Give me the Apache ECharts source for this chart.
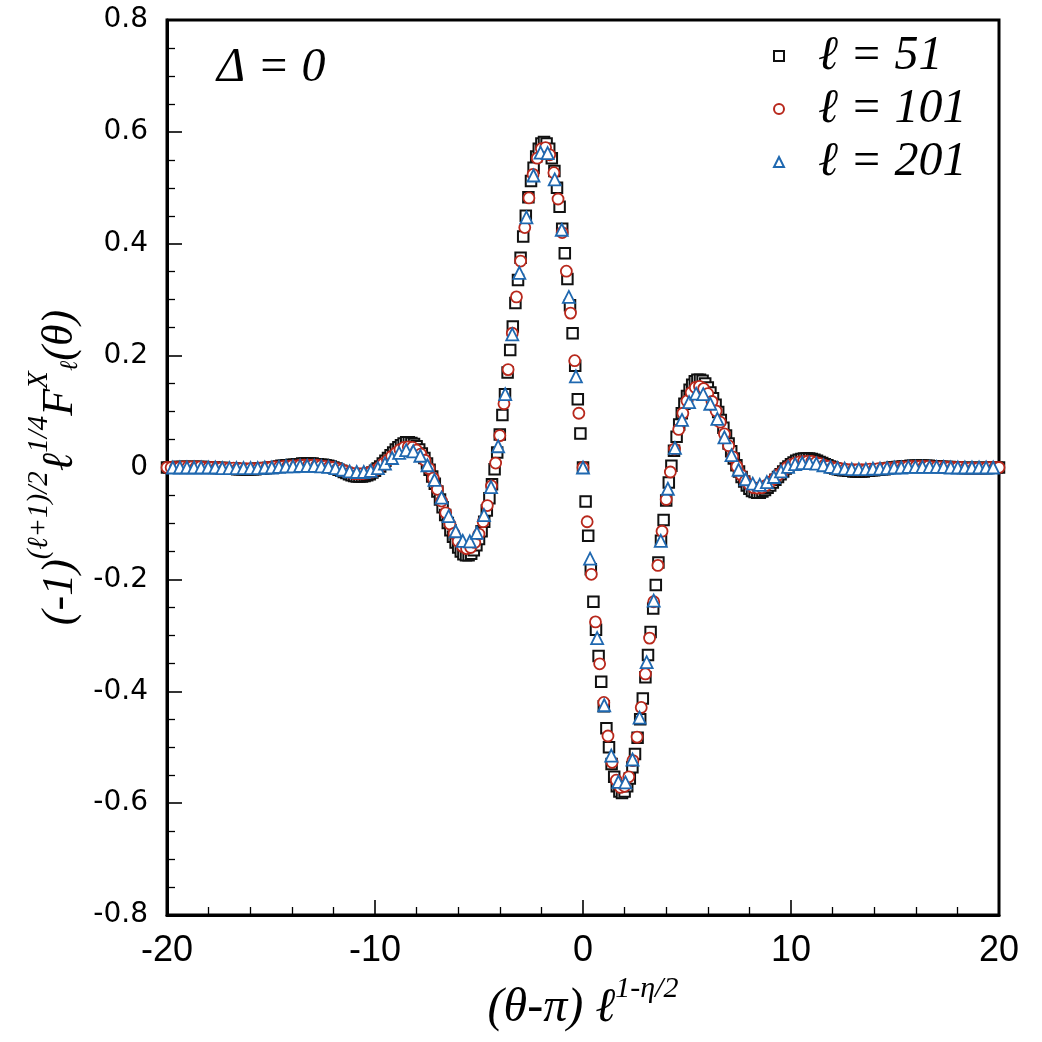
<!DOCTYPE html>
<html>
<head>
<meta charset="utf-8">
<title>F_l^X scaling collapse</title>
<script src="https://cdn.jsdelivr.net/npm/echarts@6/dist/echarts.min.js"></script>
<style>
  html, body { margin: 0; padding: 0; background: #fff; }
  #main { width: 1042px; height: 1042px; }
</style>
</head>
<body>
<div id="main"></div>
<script>
(function() {
  'use strict';
  var echarts = window.echarts;

  // 坐标轴刻度
  var xTicks = [-20, -10, 0, 10, 20];
  var yTicks = [-0.8, -0.6, -0.4, -0.2, 0, 0.2, 0.4, 0.6, 0.8];

  var names = ['ℓ = 51', 'ℓ = 101', 'ℓ = 201'];

  // 每条数据的 x 网格：起点与步长（均匀采样）
  var x0L51 = -20, dxL51 = 0.125;
  var x0L101 = -20, dxL101 = 0.2;
  var x0L201 = -19.72, dxL201 = 0.34;

  // l = 51 (方块)
  var yL51 = [
    0, 0, 0, 0, 0.001, 0.001, 0.001, 0.001,
    0.001, 0.001, 0.001, 0.001, 0.001, 0.001, 0.001, 0,
    0, 0, 0, -0.001, -0.001, -0.001, -0.001, -0.002,
    -0.002, -0.002, -0.002, -0.003, -0.003, -0.003, -0.003, -0.003,
    -0.003, -0.003, -0.003, -0.002, -0.002, -0.002, -0.001, -0.001,
    0, 0, 0.001, 0.002, 0.003, 0.003, 0.004, 0.004,
    0.005, 0.005, 0.006, 0.006, 0.007, 0.007, 0.007, 0.007,
    0.007, 0.006, 0.006, 0.005, 0.005, 0.004, 0.003, 0.002,
    0, -0.002, -0.004, -0.006, -0.008, -0.010, -0.012, -0.014,
    -0.015, -0.016, -0.016, -0.016, -0.015, -0.014, -0.012, -0.009,
    -0.006, -0.002, 0.002, 0.007, 0.012, 0.017, 0.022, 0.027,
    0.032, 0.036, 0.040, 0.043, 0.045, 0.045, 0.044, 0.042,
    0.038, 0.032, 0.025, 0.017, 0.007, -0.004, -0.016, -0.029,
    -0.043, -0.057, -0.071, -0.085, -0.099, -0.112, -0.124, -0.134,
    -0.143, -0.150, -0.155, -0.157, -0.157, -0.154, -0.148, -0.139,
    -0.128, -0.114, -0.097, -0.077, -0.055, -0.030, -0.003, 0.027,
    0.059, 0.094, 0.131, 0.170, 0.210, 0.252, 0.294, 0.335,
    0.375, 0.413, 0.450, 0.483, 0.512, 0.536, 0.556, 0.570,
    0.579, 0.582, 0.579, 0.570, 0.553, 0.530, 0.500, 0.466,
    0.427, 0.383, 0.337, 0.290, 0.240, 0.182, 0.122, 0.061,
    0, -0.061, -0.122, -0.182, -0.240, -0.290, -0.337, -0.383,
    -0.427, -0.466, -0.500, -0.530, -0.553, -0.570, -0.579, -0.582,
    -0.579, -0.570, -0.556, -0.536, -0.512, -0.483, -0.450, -0.413,
    -0.375, -0.335, -0.294, -0.252, -0.210, -0.170, -0.131, -0.094,
    -0.059, -0.027, 0.003, 0.030, 0.055, 0.077, 0.097, 0.114,
    0.128, 0.139, 0.148, 0.154, 0.157, 0.157, 0.155, 0.150,
    0.143, 0.134, 0.124, 0.112, 0.099, 0.085, 0.071, 0.057,
    0.043, 0.029, 0.016, 0.004, -0.007, -0.017, -0.025, -0.032,
    -0.038, -0.042, -0.044, -0.045, -0.045, -0.043, -0.040, -0.036,
    -0.032, -0.027, -0.022, -0.017, -0.012, -0.007, -0.002, 0.002,
    0.006, 0.009, 0.012, 0.014, 0.015, 0.016, 0.016, 0.016,
    0.015, 0.014, 0.012, 0.010, 0.008, 0.006, 0.004, 0.002,
    0, -0.002, -0.003, -0.004, -0.005, -0.005, -0.006, -0.006,
    -0.007, -0.007, -0.007, -0.007, -0.007, -0.006, -0.006, -0.005,
    -0.005, -0.004, -0.004, -0.003, -0.003, -0.002, -0.001, 0,
    0, 0.001, 0.001, 0.002, 0.002, 0.002, 0.003, 0.003,
    0.003, 0.003, 0.003, 0.003, 0.003, 0.003, 0.002, 0.002,
    0.002, 0.002, 0.001, 0.001, 0.001, 0.001, 0, 0,
    0, 0, -0.001, -0.001, -0.001, -0.001, -0.001, -0.001,
    -0.001, -0.001, -0.001, -0.001, -0.001, 0, 0, 0,
    0
  ];

  // l = 101 (圆圈)
  var yL101 = [
    0, 0, 0, 0, 0.001,
    0.001, 0.001, 0.001, 0.001, 0,
    0, 0, 0, -0.001, -0.001,
    -0.001, -0.001, -0.002, -0.002, -0.002,
    -0.002, -0.002, -0.001, -0.001, 0,
    0, 0.001, 0.001, 0.002, 0.002,
    0.003, 0.003, 0.004, 0.004, 0.004,
    0.004, 0.004, 0.003, 0.002, 0.001,
    0, -0.002, -0.004, -0.007, -0.009,
    -0.011, -0.011, -0.011, -0.010, -0.008,
    -0.005, 0, 0.007, 0.013, 0.020,
    0.026, 0.032, 0.036, 0.037, 0.036,
    0.031, 0.024, 0.013, -0.002, -0.019,
    -0.039, -0.060, -0.081, -0.101, -0.118,
    -0.132, -0.141, -0.145, -0.143, -0.134,
    -0.119, -0.097, -0.068, -0.033, 0.008,
    0.057, 0.114, 0.175, 0.240, 0.305,
    0.369, 0.429, 0.482, 0.524, 0.553,
    0.570, 0.572, 0.559, 0.527, 0.480,
    0.420, 0.351, 0.276, 0.191, 0.097,
    0, -0.097, -0.191, -0.276, -0.351,
    -0.420, -0.480, -0.527, -0.559, -0.572,
    -0.570, -0.553, -0.524, -0.482, -0.429,
    -0.369, -0.305, -0.240, -0.175, -0.114,
    -0.057, -0.008, 0.033, 0.068, 0.097,
    0.119, 0.134, 0.143, 0.145, 0.141,
    0.132, 0.118, 0.101, 0.081, 0.060,
    0.039, 0.019, 0.002, -0.013, -0.024,
    -0.031, -0.036, -0.037, -0.036, -0.032,
    -0.026, -0.020, -0.013, -0.007, 0,
    0.005, 0.008, 0.010, 0.011, 0.011,
    0.011, 0.009, 0.007, 0.004, 0.002,
    0, -0.001, -0.002, -0.003, -0.004,
    -0.004, -0.004, -0.004, -0.004, -0.003,
    -0.003, -0.002, -0.002, -0.001, -0.001,
    0, 0, 0.001, 0.001, 0.002,
    0.002, 0.002, 0.002, 0.002, 0.001,
    0.001, 0.001, 0.001, 0, 0,
    0, 0, -0.001, -0.001, -0.001,
    -0.001, -0.001, 0, 0, 0,
    0
  ];

  // l = 201 (三角)
  var yL201 = [
    0, 0, 0, 0, 0, 0, 0, -0.001, -0.001, -0.001,
    -0.001, -0.001, -0.001, 0, 0, 0.001, 0.002, 0.002, 0.003, 0.003,
    0.003, 0.002, 0.001, -0.001, -0.004, -0.007, -0.008, -0.008, -0.006, -0.001,
    0.007, 0.017, 0.026, 0.031, 0.029, 0.021, 0.004, -0.022, -0.054, -0.087,
    -0.114, -0.131, -0.132, -0.117, -0.085, -0.035, 0.038, 0.131, 0.238, 0.348,
    0.447, 0.522, 0.563, 0.562, 0.515, 0.425, 0.305, 0.163, 0, -0.163,
    -0.305, -0.425, -0.515, -0.562, -0.563, -0.522, -0.447, -0.348, -0.238, -0.131,
    -0.038, 0.035, 0.085, 0.117, 0.132, 0.131, 0.114, 0.087, 0.054, 0.022,
    -0.004, -0.021, -0.029, -0.031, -0.026, -0.017, -0.007, 0.001, 0.006, 0.008,
    0.008, 0.007, 0.004, 0.001, -0.001, -0.002, -0.003, -0.003, -0.003, -0.002,
    -0.002, -0.001, 0, 0, 0.001, 0.001, 0.001, 0.001, 0.001, 0.001,
    0, 0, 0, 0, 0, 0, 0
  ];

  function toPoints(x0, dx, ys) { // 把 y 值配上 x 网格
    return ys.map(function(y, i) {
      return [+(x0 + i * dx).toFixed(4), y];
    });
  }

  var serif = '"Liberation Serif", "DejaVu Serif", serif';

  var myChart = echarts.init(document.getElementById('main'), null, { renderer: 'canvas' });

  var option = {
    animation: false,
    backgroundColor: '#fff',
    grid: {
      left: 167,
      right: 43,
      top: 20,
      bottom: 127,
      show: true,
      borderColor: '#000',
      borderWidth: 3,
      backgroundColor: 'transparent'
    },
    legend: {
      orient: 'vertical',
      left: 768,
      top: 27,
      itemWidth: 10,
      itemHeight: 10,
      itemGap: 5,
      textStyle: {
        fontFamily: serif,
        fontStyle: 'italic',
        fontSize: 48,
        lineHeight: 48,
        color: '#000',
        padding: [0, 0, 0, 29]
      },
      data: names
    },
    graphic: [{
      type: 'text',
      left: 217,
      top: 44,
      style: {
        text: 'Δ = 0',
        font: 'italic 48px ' + serif,
        fill: '#000'
      }
    }],
    xAxis: {
      type: 'value',
      min: xTicks[0],
      max: xTicks[xTicks.length - 1],
      interval: xTicks[1] - xTicks[0],
      axisLine: { show: true, onZero: false, lineStyle: { color: '#000', width: 3 } },
      axisTick: { show: true, inside: true, length: 15, lineStyle: { color: '#000', width: 1.6 } },
      minorTick: { show: true, splitNumber: 5, length: 8, lineStyle: { color: '#000', width: 1.3 } },
      splitLine: { show: false },
      axisLabel: {
        margin: 18,
        color: '#000',
        fontSize: 36,
        fontFamily: '"Liberation Sans Narrow", "Liberation Sans", sans-serif'
      },
      name: '{m|(θ-π) ℓ}{s|1-η/2}',
      nameLocation: 'middle',
      nameGap: 43,
      nameTextStyle: {
        color: '#000',
        rich: {
          m: { fontFamily: serif, fontStyle: 'italic', fontSize: 48, lineHeight: 58, verticalAlign: 'bottom', color: '#000' },
          s: { fontFamily: serif, fontStyle: 'italic', fontSize: 30, lineHeight: 30, verticalAlign: 'top', color: '#000' }
        }
      }
    },
    yAxis: {
      type: 'value',
      min: yTicks[0],
      max: yTicks[yTicks.length - 1],
      interval: 0.2,
      axisLine: { show: true, onZero: false, lineStyle: { color: '#000', width: 3 } },
      axisTick: { show: true, inside: true, length: 15, lineStyle: { color: '#000', width: 1.6 } },
      minorTick: { show: true, splitNumber: 4, length: 8, lineStyle: { color: '#000', width: 1.3 } },
      splitLine: { show: false },
      axisLabel: {
        margin: 19,
        color: '#000',
        fontSize: 28,
        fontFamily: '"DejaVu Sans", sans-serif',
        formatter: function(v) {
          return Math.abs(v) < 1e-9 ? '0' : v.toFixed(1);
        }
      },
      name: '{m|(-1)}{s|(ℓ+1)/2}{m|ℓ}{s|1/4}{m|F}{s|X}{b|ℓ}{m|(θ)}',
      nameLocation: 'middle',
      nameRotate: 90,
      nameGap: 72,
      nameTextStyle: {
        color: '#000',
        rich: {
          m: { fontFamily: serif, fontStyle: 'italic', fontSize: 44, lineHeight: 58, verticalAlign: 'bottom', color: '#000' },
          s: { fontFamily: serif, fontStyle: 'italic', fontSize: 29, lineHeight: 29, verticalAlign: 'top', color: '#000' },
          b: { fontFamily: serif, fontStyle: 'italic', fontSize: 25, lineHeight: 25, verticalAlign: 'bottom', color: '#000' }
        }
      }
    },
    series: [{
      name: names[0],
      type: 'scatter',
      symbol: 'rect',
      symbolSize: 10.5,
      itemStyle: { color: '#fff', borderColor: '#111', borderWidth: 2, opacity: 1 },
      data: toPoints(x0L51, dxL51, yL51)
    }, {
      name: names[1],
      type: 'scatter',
      symbol: 'circle',
      symbolSize: 11,
      itemStyle: { color: '#fff', borderColor: '#b8281c', borderWidth: 1.8, opacity: 1 },
      data: toPoints(x0L101, dxL101, yL101)
    }, {
      name: names[2],
      type: 'scatter',
      symbol: 'triangle',
      symbolSize: 12,
      itemStyle: { color: '#fff', borderColor: '#1f68b0', borderWidth: 1.8, opacity: 1 },
      data: toPoints(x0L201, dxL201, yL201)
    }]
  };

  myChart.setOption(option);

}());
</script>
</body>
</html>
